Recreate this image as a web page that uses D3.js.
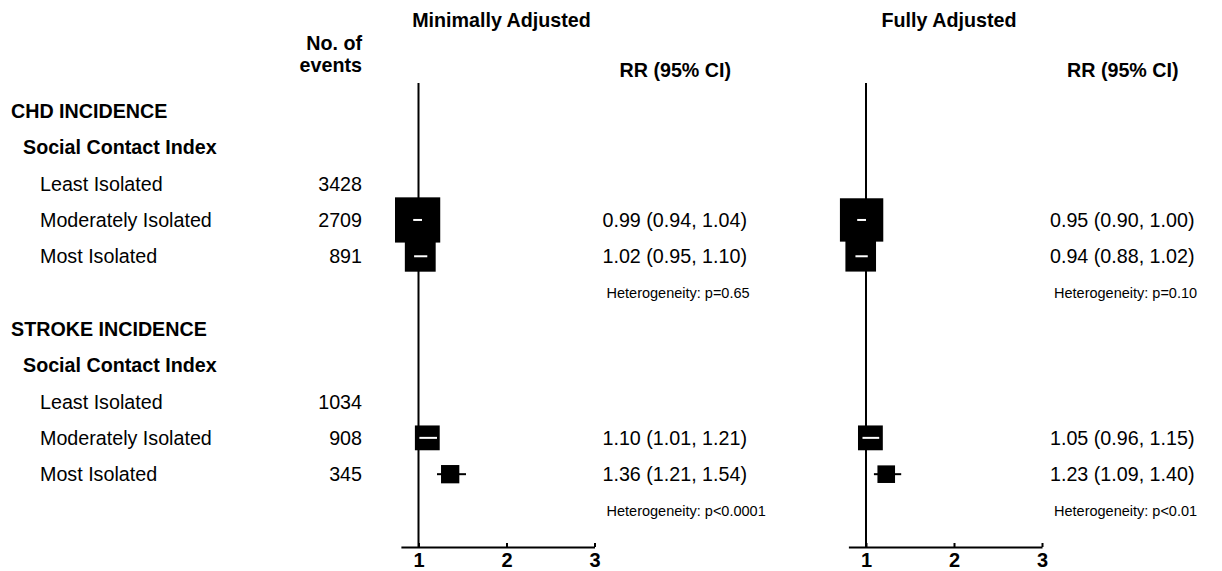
<!DOCTYPE html>
<html lang="en">
<head>
    <meta charset="utf-8"/>
    <title>Forest plot - social contact index</title>
    <script src="https://d3js.org/d3.v7.min.js"></script>
    <style>
        body { margin: 0; background: #fff; }
        svg text { font-family: "Liberation Sans", Arial, sans-serif; fill: #000; }
        .bold { font-weight: bold; }
    </style>
</head>
<body>
<svg width="1222" height="571"></svg>
<script>
    // datos
    const groups = ["CHD INCIDENCE", "STROKE INCIDENCE"];
    const subheading = "Social Contact Index";
    const categories = ["Least Isolated", "Moderately Isolated", "Most Isolated"];
    const chdEvents = [3428, 2709, 891];
    const strokeEvents = [1034, 908, 345];
    // [RR, low, high]; least isolated es la referencia
    const chdMinimal = [null, [0.99, 0.94, 1.04], [1.02, 0.95, 1.10]];
    const chdFull = [null, [0.95, 0.90, 1.00], [0.94, 0.88, 1.02]];
    const strokeMinimal = [null, [1.10, 1.01, 1.21], [1.36, 1.21, 1.54]];
    const strokeFull = [null, [1.05, 0.96, 1.15], [1.23, 1.09, 1.40]];
    const chdHet = ["p=0.65", "p=0.10"];
    const strokeHet = ["p<0.0001", "p<0.01"];
    const panelTitles = ["Minimally Adjusted", "Fully Adjusted"];
    const xTicks = [1, 2, 3];

    const svg = d3.select("svg");
    const fmt = d3.format(".2f");
    const fs = "19.7px";

    // filas: cabecera, subcabecera, 3 categorias, heterogeneidad
    let rows = [];
    const groupData = [
        {name: groups[0], events: chdEvents, est: [chdMinimal, chdFull], het: chdHet},
        {name: groups[1], events: strokeEvents, est: [strokeMinimal, strokeFull], het: strokeHet}
    ];
    groupData.forEach(function (g) {
        rows.push({type: "group", label: g.name});
        rows.push({type: "sub", label: subheading});
        categories.forEach(function (c, i) {
            rows.push({type: "cat", label: c, events: g.events[i], est: g.est.map(p => p[i])});
        });
        rows.push({type: "het", het: g.het});
    });

    const yScale = d3.scaleLinear().domain([0, rows.length - 1]).range([111, 510.5]);
    const axisY = 547;

    // etiquetas de la izquierda
    const indent = {group: 11, sub: 23, cat: 40};
    rows.forEach(function (r, i) {
        if (r.type === "het") return;
        svg.append("text")
            .attr("class", r.type === "cat" ? "" : "bold")
            .attr("x", indent[r.type])
            .attr("y", yScale(i))
            .attr("dy", "0.36em")
            .style("font-size", fs)
            .text(r.label);
        if (r.type === "cat") {
            svg.append("text")
                .attr("x", 362)
                .attr("y", yScale(i))
                .attr("dy", "0.36em")
                .attr("text-anchor", "end")
                .style("font-size", fs)
                .text(r.events);
        }
    });

    svg.append("text").attr("class", "bold").attr("x", 362).attr("y", 50)
        .attr("text-anchor", "end").style("font-size", fs).text("No. of");
    svg.append("text").attr("class", "bold").attr("x", 362).attr("y", 72)
        .attr("text-anchor", "end").style("font-size", fs).text("events");

    // tamano del cuadrado segun la precision (1/se)
    function precision(e) {
        return 2 * 1.96 / (Math.log(e[2]) - Math.log(e[1]));
    }
    const sizeScale = d3.scaleLinear().domain([16, 39]).range([18, 45.5]);

    // dos paneles
    const panelStarts = [400.9, 848.4];
    panelStarts.forEach(function (x0, p) {
        const xScale = d3.scaleLinear().domain([0.8, 3]).range([x0, x0 + 2.2 * 88]);
        const x1 = xScale(1);

        let xAxis = d3.axisBottom(xScale)
            .tickValues(xTicks)
            .tickFormat(d3.format("d"))
            .tickSizeInner(-4)
            .tickSizeOuter(0)
            .tickPadding(6);
        let g = svg.append("g")
            .attr("transform", "translate(0," + axisY + ")")
            .call(xAxis);
        g.select(".domain").attr("stroke-width", 2);
        g.selectAll(".tick line").attr("stroke-width", 2);
        g.selectAll(".tick text")
            .style("font-family", "'Liberation Sans', Arial, sans-serif")
            .style("font-weight", "bold")
            .style("font-size", "20px");

        // linea de referencia en 1
        svg.append("line")
            .attr("x1", x1).attr("x2", x1)
            .attr("y1", 83).attr("y2", axisY)
            .attr("stroke", "#000").attr("stroke-width", 2);

        // titulos
        svg.append("text").attr("class", "bold")
            .attr("x", x1 + 83).attr("y", 27)
            .attr("text-anchor", "middle")
            .style("font-size", fs)
            .text(panelTitles[p]);
        svg.append("text").attr("class", "bold")
            .attr("x", x1 + 201).attr("y", 77)
            .style("font-size", fs)
            .text("RR (95% CI)");

        rows.forEach(function (r, i) {
            const y = yScale(i);
            if (r.type === "het") {
                svg.append("text")
                    .attr("x", x1 + 188).attr("y", y)
                    .attr("dy", "0.36em")
                    .style("font-size", "14.5px")
                    .text("Heterogeneity: " + r.het[p]);
                return;
            }
            if (r.type !== "cat") return;
            const e = r.est[p];
            if (!e) return;
            const s = sizeScale(precision(e));
            const cx = xScale(e[0]);
            const lo = xScale(e[1]), hi = xScale(e[2]);
            const inside = lo >= cx - s / 2 && hi <= cx + s / 2;

            svg.append("line")
                .attr("x1", lo).attr("x2", hi)
                .attr("y1", y).attr("y2", y)
                .attr("stroke", "#000").attr("stroke-width", 2);
            svg.append("rect")
                .attr("x", cx - s / 2).attr("y", y - s / 2)
                .attr("width", s).attr("height", s)
                .attr("fill", "#000");
            if (inside) {
                svg.append("line")
                    .attr("x1", lo).attr("x2", hi)
                    .attr("y1", y).attr("y2", y)
                    .attr("stroke", "#fff").attr("stroke-width", 2);
            }

            svg.append("text")
                .attr("x", x1 + 184).attr("y", y)
                .attr("dy", "0.36em")
                .style("font-size", fs)
                .text(fmt(e[0]) + " (" + fmt(e[1]) + ", " + fmt(e[2]) + ")");
        });
    });
</script>
</body>
</html>
